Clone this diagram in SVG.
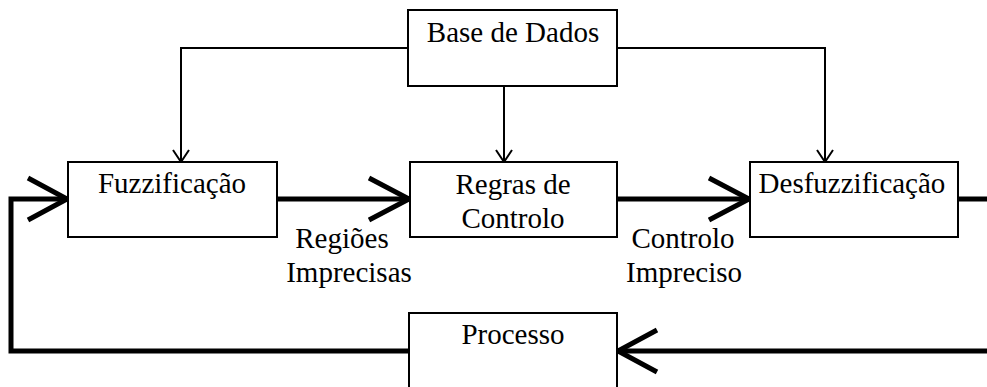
<svg xmlns="http://www.w3.org/2000/svg" width="987" height="387" viewBox="0 0 987 387">
<style>
.box{fill:#fff;stroke:#000;stroke-width:2}
.t{font-family:"Liberation Serif","Times New Roman",serif;font-size:29px;fill:#000;text-anchor:middle}
.thin{fill:none;stroke:#000;stroke-width:2}
.thick{fill:none;stroke:#000;stroke-width:5}
</style>
<rect width="987" height="387" fill="#fff"/>
<g id="connectors">
<polyline class="thin" points="408,48 181,48 181,161"/>
<polyline class="thin" points="173,150 181,162 189,150"/>
<line class="thin" x1="504" y1="86" x2="504" y2="161"/>
<polyline class="thin" points="496,150 504,162 512,150"/>
<polyline class="thin" points="617,48 825,48 825,161"/>
<polyline class="thin" points="817,150 825,162 833,150"/>
<line class="thick" x1="277" y1="199" x2="408" y2="199"/>
<polyline class="thick" points="369,178 409,199 369,220"/>
<line class="thick" x1="617" y1="199" x2="748" y2="199"/>
<polyline class="thick" points="709,178 749,199 709,220"/>
<line class="thick" x1="958" y1="199" x2="987" y2="199"/>
<line class="thick" x1="987" y1="351" x2="619" y2="351"/>
<polyline class="thick" points="657,330 618,351 657,372"/>
<polyline class="thick" points="409,351 11,351 11,199 66,199"/>
<polyline class="thick" points="28,178 67,199 28,220"/>
</g>
<g id="base-de-dados">
<rect class="box" x="408" y="10" width="209" height="76"/>
<text class="t" x="513" y="42">Base de Dados</text>
</g>
<g id="fuzzificacao">
<rect class="box" x="68" y="162" width="209" height="75"/>
<text class="t" x="172" y="193">Fuzzificação</text>
</g>
<g id="regras">
<rect class="box" x="410" y="162" width="207" height="75"/>
<text class="t" x="513" y="194">Regras de</text>
<text class="t" x="513" y="228">Controlo</text>
</g>
<g id="desfuzzificacao">
<rect class="box" x="750" y="162" width="208" height="75"/>
<text class="t" x="852" y="193">Desfuzzificação</text>
</g>
<g id="processo">
<rect class="box" x="409" y="313" width="208" height="80"/>
<text class="t" x="513" y="344">Processo</text>
</g>
<g id="labels">
<text class="t" x="342" y="248">Regiões</text>
<text class="t" x="349" y="282">Imprecisas</text>
<text class="t" x="683" y="248">Controlo</text>
<text class="t" x="684" y="282">Impreciso</text>
</g>
</svg>
